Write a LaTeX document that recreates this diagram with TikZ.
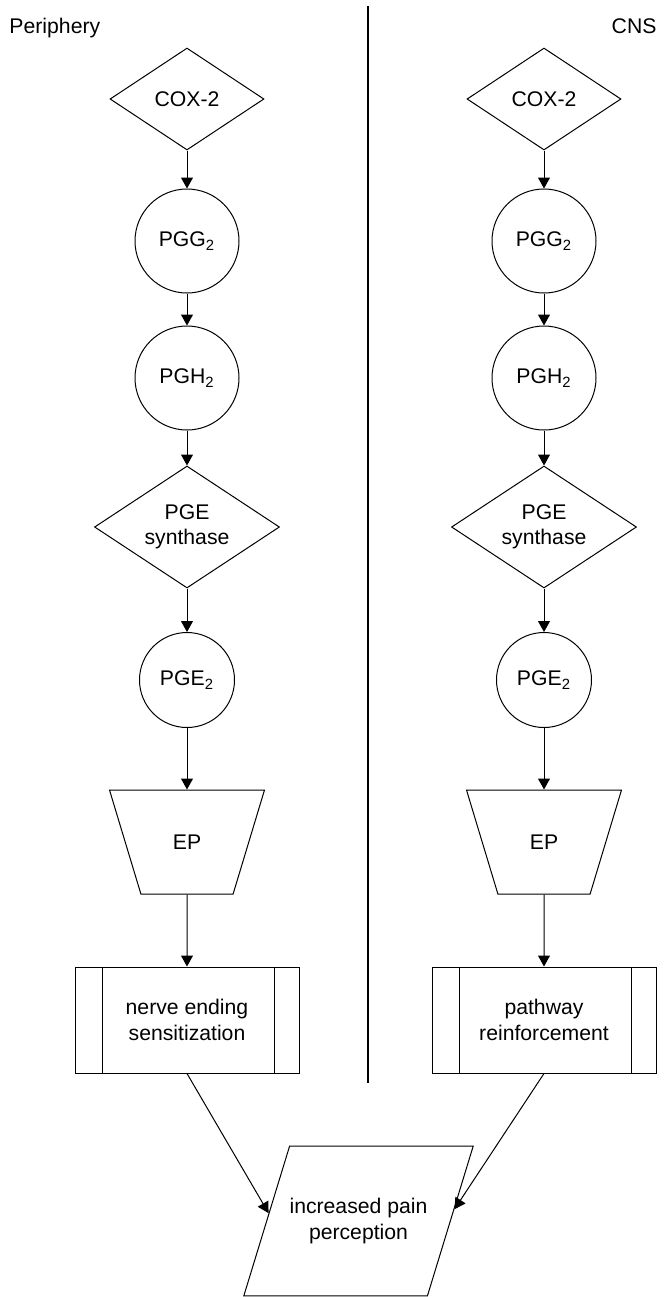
\documentclass[tikz,border=0pt]{standalone}
\usepackage{fontspec}
\setmainfont{Liberation Sans}
\usetikzlibrary{shapes.geometric,arrows.meta}

\tikzset{every picture/.style={line width=0.5pt},
  every node/.style={font=\fontsize{10.6}{12.7}\selectfont, inner sep=0pt},
  enzyme/.style={diamond, draw, shape aspect=1.5, align=center},
  metab/.style={circle, draw, minimum size=52pt},
  receptor/.style={trapezium, draw, trapezium left angle=106.8, trapezium right angle=106.8,
    trapezium stretches body, text height=7.6pt, text depth=0pt, inner ysep=22.2pt,
    minimum width=77.5pt},
  effect/.style={rectangle, draw, minimum width=112pt, minimum height=53pt, align=center},
  outcome/.style={trapezium, draw, trapezium left angle=73, trapezium right angle=107,
    trapezium stretches body, inner ysep=26.1pt, minimum width=113.5pt, align=center},
  flow/.style={-{Triangle[width=6pt,length=5.5pt]}}}

\begin{document}
\begin{tikzpicture}[x=0.5pt,y=0.5pt,yscale=-1,xscale=1]
        \useasboundingbox (0,0) rectangle (669,1297);

        %Straight Lines: divider
        \draw [line width=1pt]  (367.5,6) -- (367.5,1083) ;

        % Text Node
        \node [anchor=base west] (periph) at (9,33) {Periphery};
        % Text Node
        \node [anchor=base east] (cns) at (657,33) {CNS};

        %Shape: Diamond
        \node [enzyme, minimum width=77pt, minimum height=51pt] (coxL) at (187,99) {COX-2};
        %Shape: Circle
        \node [metab] (pggL) at (187,241) {PGG\textsubscript{2}};
        %Shape: Circle
        \node [metab] (pghL) at (187,378) {PGH\textsubscript{2}};
        %Shape: Diamond
        \node [enzyme, minimum width=92.5pt, minimum height=61pt] (synL) at (187,527) {PGE\\synthase};
        %Shape: Circle
        \node [metab, minimum size=47.5pt] (pgeL) at (187,680) {PGE\textsubscript{2}};
        %Shape: Trapezoid
        \node [receptor] (epL) at (187,842) {EP};
        %Shape: Rectangle
        \node [effect] (nerve) at (187,1020) {nerve ending\\sensitization};
        \draw ([xshift=14pt]nerve.north west) -- ([xshift=14pt]nerve.south west) ;
        \draw ([xshift=-12.5pt]nerve.north east) -- ([xshift=-12.5pt]nerve.south east) ;

        %Shape: Diamond
        \node [enzyme, minimum width=77pt, minimum height=51pt] (coxR) at (544,99) {COX-2};
        %Shape: Circle
        \node [metab] (pggR) at (544,241) {PGG\textsubscript{2}};
        %Shape: Circle
        \node [metab] (pghR) at (544,378) {PGH\textsubscript{2}};
        %Shape: Diamond
        \node [enzyme, minimum width=92.5pt, minimum height=61pt] (synR) at (544,527) {PGE\\synthase};
        %Shape: Circle
        \node [metab, minimum size=47.5pt] (pgeR) at (544,680) {PGE\textsubscript{2}};
        %Shape: Trapezoid
        \node [receptor] (epR) at (544,842) {EP};
        %Shape: Rectangle
        \node [effect] (pathway) at (544,1020) {pathway\\reinforcement};
        \draw ([xshift=14pt]pathway.north west) -- ([xshift=14pt]pathway.south west) ;
        \draw ([xshift=-12.5pt]pathway.north east) -- ([xshift=-12.5pt]pathway.south east) ;

        %Shape: Parallelogram
        \node [outcome] (pain) at (358.5,1221) {increased pain\\perception};

        %Straight Lines: arrows
        \draw [flow] (coxL) -- (pggL) ;
        \draw [flow] (pggL) -- (pghL) ;
        \draw [flow] (pghL) -- (synL) ;
        \draw [flow] (synL) -- (pgeL) ;
        \draw [flow] (pgeL) -- (epL) ;
        \draw [flow] (epL) -- (nerve) ;
        \draw [flow] (coxR) -- (pggR) ;
        \draw [flow] (pggR) -- (pghR) ;
        \draw [flow] (pghR) -- (synR) ;
        \draw [flow] (synR) -- (pgeR) ;
        \draw [flow] (pgeR) -- (epR) ;
        \draw [flow] (epR) -- (pathway) ;
        \draw [flow] (nerve.south) -- (pain.175) ;
        \draw [flow] (pathway.south) -- (pain.7) ;

\end{tikzpicture}
\end{document}
